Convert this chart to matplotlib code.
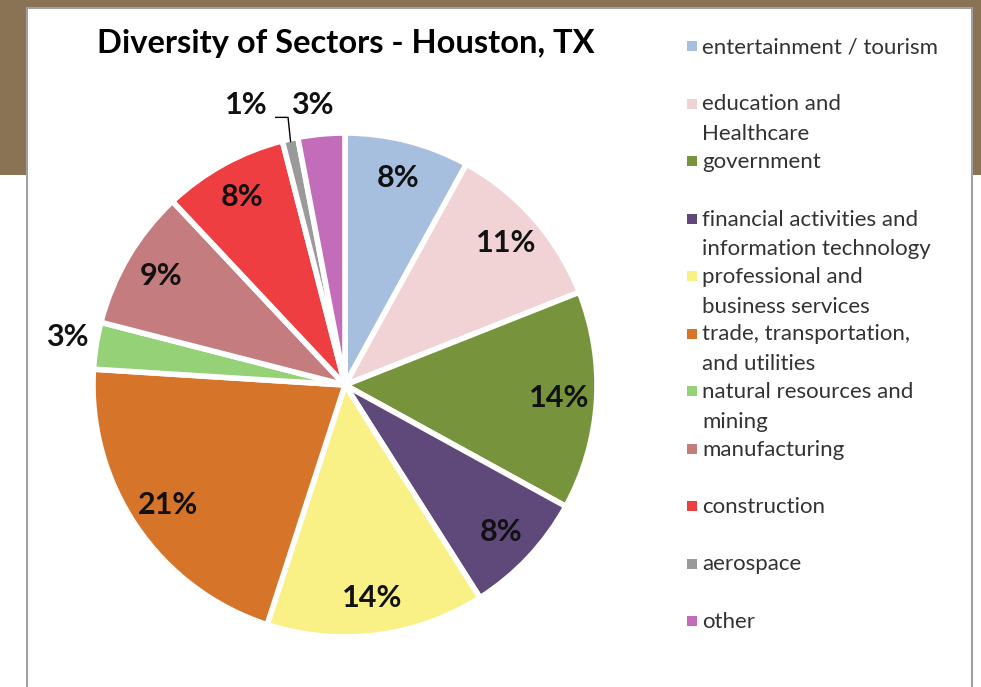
import numpy as np
import matplotlib
matplotlib.use('Agg')
import matplotlib.pyplot as plt
from matplotlib.patches import Rectangle

sectors = ['entertainment / tourism', 'education and\nHealthcare', 'government',
           'financial activities and\ninformation technology', 'professional and\nbusiness services',
           'trade, transportation,\nand utilities', 'natural resources and\nmining', 'manufacturing',
           'construction', 'aerospace', 'other']
shares = [8, 11, 14, 8, 14, 21, 3, 9, 8, 1, 3]
colors = ['#A7BFDE', '#F2D3D5', '#77933C', '#5F497A', '#F9F185', '#D6752A',
          '#95D177', '#C47C7E', '#EE3E42', '#9A9A9A', '#C36CB9']

W, H = 981, 687
fig = plt.figure(figsize=(W / 100, H / 100), dpi=100, facecolor='#8A7355')

# white slide area below the tan band and the chart box
fig.patches.append(Rectangle((0, 0), 1, (H - 175) / H, transform=fig.transFigure,
                             facecolor='white', edgecolor='none', zorder=-2))
fig.patches.append(Rectangle((27 / W, -0.01), (972 - 27) / W, (H - 8) / H + 0.01,
                             transform=fig.transFigure, facecolor='white',
                             edgecolor='#A0A0A0', lw=1.5, zorder=-1))

fig.text(346 / W, 1 - 43 / H, 'Diversity of Sectors - Houston, TX', ha='center', va='center',
         fontsize=23.5, fontweight='bold', family='Lato', color='black')

cx, cy, r = 345, 385, 252
ax = fig.add_axes([(cx - r) / W, 1 - (cy + r) / H, 2 * r / W, 2 * r / H])
ax.set_zorder(3)
wedges, _ = ax.pie(shares, colors=colors, startangle=90, counterclock=False, radius=1,
                   wedgeprops=dict(edgecolor='white', linewidth=4))
ax.set_xlim(-1, 1)
ax.set_ylim(-1, 1)
ax.axis('off')

lab = dict(fontsize=22, fontweight='bold', family='Lato', color='#111111', ha='center', va='center')
for i, w in enumerate(wedges):
    th = np.deg2rad((w.theta1 + w.theta2) / 2)
    txt = '%d%%' % shares[i]
    if i == 6:
        ax.text(1.03 * np.cos(th), 1.03 * np.sin(th) + 0.03, txt, **{**lab, 'ha': 'right'})
    elif i == 9:
        ax.text(-0.39, 1.11, txt, **lab)
        px, py = 0.99 * np.cos(th), 0.99 * np.sin(th)
        ax.plot([-0.275, px - 0.01, px], [1.062, 1.062, py], color='black', lw=1, clip_on=False)
    elif i == 10:
        ax.text(-0.13, 1.11, txt, **lab)
    else:
        ax.text(0.85 * np.cos(th), 0.85 * np.sin(th), txt, **lab)

# legend, drawn by hand to keep Excel's even slot spacing
y0, step = 46, 57.5
for i, (name, c) in enumerate(zip(sectors, colors)):
    y = y0 + i * step
    fig.patches.append(Rectangle((687 / W, 1 - (y + 5) / H), 10 / W, 10 / H,
                                 transform=fig.transFigure, facecolor=c, edgecolor='none'))
    fig.text(702 / W, 1 - (y - 9) / H, name, ha='left', va='top', fontsize=16,
             family='Lato', color='#333333', linespacing=1.6)

fig.savefig('out.png', dpi=100, facecolor=fig.get_facecolor())
